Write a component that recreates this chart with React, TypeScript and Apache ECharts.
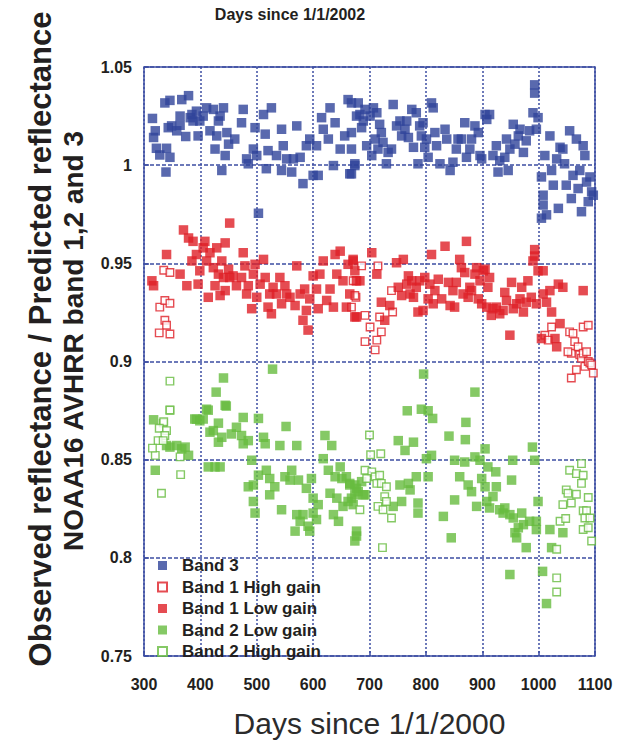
import React, { useEffect, useRef } from "react";
import * as echarts from "echarts";

// ---------- data ----------
const seriesNames = ["Band 3", "Band 1 High gain", "Band 1 Low gain", "Band 2 Low gain", "Band 2 High gain"];
const xTicks = { min: 300, max: 1100, step: 100 };
const yTicks = { min: 0.75, max: 1.05, step: 0.05 };

const band3: [number, number][] = [
  [315, 1.0238], [317, 1.0141], [320, 1.0175], [322, 1.0086], [328, 1.0052], [337, 1.0317], [339, 0.9965], [340, 1.0086],
  [346, 1.033], [346, 1.004], [343, 1.0191], [349, 1.02], [358, 1.0175], [364, 1.025], [367, 1.0334], [364, 1.0203],
  [374, 1.0146], [379, 1.0354], [382, 1.0242], [385, 1.0258], [387, 1.0225], [393, 1.0275], [396, 1.0149], [399, 1.0225],
  [405, 1.025], [411, 1.0292], [417, 1.0175], [423, 1.0284], [426, 1.0082], [429, 1.0149], [432, 1.0225], [435, 1.025],
  [438, 0.9973], [441, 1.0292], [444, 1.0049], [447, 1.0166], [450, 1.0107], [461, 1.0133], [473, 1.0216], [476, 1.0284],
  [482, 1.0032], [485, 1.0007], [494, 1.0082], [497, 1.0191], [500, 1.0049], [503, 0.9755], [512, 1.0258], [515, 1.0158],
  [517, 0.9982], [520, 1.0074], [526, 1.0292], [535, 1.0049], [544, 1.0183], [544, 0.9973], [547, 1.0099], [553, 1.0032],
  [562, 0.9965], [565, 1.0032], [571, 1.02], [577, 1.004], [582, 0.9906], [588, 1.0099], [594, 1.0133], [600, 0.9948],
  [606, 1.0099], [609, 0.9948], [615, 1.0242], [618, 1.0183], [627, 1.0133], [630, 1.0292], [636, 0.9998], [639, 1.0216],
  [648, 1.0082], [656, 1.0149], [662, 1.0334], [665, 0.9956], [674, 0.9998], [677, 1.025],
  [668, 1.0317], [668, 1.0166], [668, 1.0082], [668, 0.9956], [674, 1.0007], [680, 1.0317], [683, 1.0258], [686, 1.0191],
  [689, 1.0225], [692, 1.0284], [695, 1.0099], [701, 1.025], [704, 1.0049], [707, 1.0292], [710, 1.0133], [713, 1.0267],
  [715, 1.0082], [718, 1.0208], [721, 1.0166], [724, 1.0116], [730, 1.0007], [733, 1.0065], [739, 1.0082], [742, 1.0309],
  [748, 1.02], [754, 1.0225], [757, 1.0149], [763, 1.0183], [766, 1.0225], [769, 1.0141], [775, 1.0284], [778, 1.0091],
  [783, 1.0267], [786, 1.0007], [789, 1.02], [792, 1.0149], [795, 1.0216], [798, 1.0091], [801, 1.0133], [804, 1.004],
  [810, 1.0317], [813, 1.0292], [816, 1.0166], [819, 1.0099], [825, 1.0007], [834, 1.0183], [837, 1.0133], [843, 0.9973],
  [848, 1.0015], [854, 1.0082], [857, 1.0133], [863, 1.0133], [869, 1.0216], [872, 1.004], [878, 1.0082], [881, 1.0133],
  [887, 1.02], [893, 1.0166], [896, 1.0049], [899, 1.0032], [905, 1.0258], [908, 1.0233], [913, 1.0258], [919, 1.0049],
  [925, 1.0099], [928, 0.9965], [931, 1.0023], [940, 1.004], [943, 1.0133], [946, 0.9973], [949, 1.0082], [955, 1.0208],
  [958, 1.0107], [964, 1.0149], [967, 1.0183], [973, 1.0065], [978, 1.0124], [984, 1.0175], [990, 1.0267], [993, 1.0409],
  [993, 1.0367], [996, 1.0183], [999, 1.0242], [1005, 0.994], [1008, 0.9847], [1011, 1.0049], [1005, 0.973], [1008, 0.9797],
  [1014, 0.9747], [1020, 1.0149], [1023, 0.9973], [1026, 0.9898], [1032, 1.0032], [1035, 0.978], [1038, 1.0091], [1043, 1.0082],
  [1046, 1.0007], [1049, 0.9898], [1055, 1.0175], [1058, 0.983], [1061, 0.9948], [1067, 1.0133], [1070, 0.9881], [1073, 0.9973],
  [1076, 0.9763], [1079, 1.0099], [1082, 1.0049], [1085, 0.9914], [1088, 0.9814], [1091, 0.994], [1094, 0.9864], [1097, 0.9847],
];

const band1High: [number, number][] = [
  [335, 0.9465], [346, 0.9453], [328, 0.9277], [337, 0.9311], [346, 0.9297], [337, 0.921], [340, 0.9185], [327, 0.9146],
  [346, 0.914], [676, 0.9411], [676, 0.9327],
  [668, 0.9277], [671, 0.9411], [674, 0.9336], [686, 0.9487], [692, 0.9235], [701, 0.9176], [710, 0.9059], [713, 0.9109],
  [715, 0.9487], [718, 0.9227], [721, 0.9151], [739, 0.9361], [741, 0.9252], [692, 0.9101],
  [1011, 0.9134], [1017, 0.9109], [1023, 0.9176], [1055, 0.9151], [1058, 0.9042], [1061, 0.9143], [1064, 0.9101], [1070, 0.9075],
  [1073, 0.9034], [1076, 0.9017], [1079, 0.9176], [1079, 0.9042], [1082, 0.8975], [1085, 0.905], [1088, 0.9], [1088, 0.9185],
  [1091, 0.8992], [1058, 0.8916], [1067, 0.8958], [1094, 0.8983], [1097, 0.8941], [1052, 0.905],
];

const band1Low: [number, number][] = [
  [370, 0.967], [452, 0.9705],
  [314, 0.9411], [317, 0.9386], [340, 0.9545], [364, 0.9445], [376, 0.9386], [379, 0.9629], [385, 0.9512], [387, 0.9612],
  [393, 0.9545], [396, 0.9394], [399, 0.9462], [405, 0.9579], [408, 0.9612], [411, 0.9512], [414, 0.9327], [417, 0.9554],
  [423, 0.9478], [426, 0.9386], [429, 0.9579], [432, 0.9445], [435, 0.9336], [438, 0.9512], [441, 0.9428], [444, 0.9604],
  [444, 0.9361], [450, 0.947], [452, 0.9428], [458, 0.9436], [464, 0.9386], [473, 0.9428], [476, 0.9554], [479, 0.9487],
  [482, 0.9344], [485, 0.9386], [491, 0.9269], [494, 0.9445], [497, 0.9495], [500, 0.9327], [506, 0.9394], [512, 0.952],
  [515, 0.9428], [520, 0.9277], [523, 0.9344], [526, 0.9243], [529, 0.9378], [535, 0.9344], [541, 0.9428], [544, 0.9294],
  [550, 0.9386], [553, 0.9344], [559, 0.9327], [568, 0.9285], [571, 0.9487], [577, 0.9344], [582, 0.921], [585, 0.9369],
  [588, 0.926], [591, 0.916], [594, 0.9319], [600, 0.9436], [606, 0.9369], [609, 0.9269], [612, 0.9445], [618, 0.9512],
  [624, 0.9311], [630, 0.9369], [636, 0.9277], [639, 0.9545], [642, 0.9445], [648, 0.9562], [653, 0.9411], [659, 0.9277],
  [662, 0.9495], [665, 0.9344], [671, 0.952], [674, 0.9227], [677, 0.9411],
  [671, 0.9512], [674, 0.9462], [677, 0.9227], [683, 0.9411], [704, 0.9554], [713, 0.9445], [721, 0.9302], [727, 0.921],
  [736, 0.9285], [748, 0.9503], [751, 0.9378], [757, 0.9336], [760, 0.952], [766, 0.9394], [769, 0.9436], [772, 0.9344],
  [775, 0.9411], [778, 0.9327], [783, 0.9378], [786, 0.9252], [789, 0.9411], [795, 0.926], [798, 0.9428], [804, 0.9319],
  [807, 0.9394], [810, 0.9545], [813, 0.9294], [816, 0.9361], [822, 0.9419], [828, 0.9319], [834, 0.9587], [840, 0.9403],
  [843, 0.9285], [848, 0.9361], [851, 0.9277], [854, 0.9403], [860, 0.952], [863, 0.9478], [866, 0.9344], [869, 0.9453],
  [872, 0.9612], [875, 0.9327], [878, 0.9378], [881, 0.9361], [887, 0.9445], [890, 0.9478], [893, 0.9319], [896, 0.9411],
  [899, 0.9294], [902, 0.9462], [905, 0.947], [908, 0.9277], [910, 0.9378], [913, 0.9428], [916, 0.9235], [919, 0.9269],
  [925, 0.9277], [931, 0.9243], [937, 0.926], [940, 0.9352], [943, 0.9311], [949, 0.9134], [952, 0.9403], [955, 0.9269],
  [961, 0.9294], [967, 0.9319], [970, 0.9378], [973, 0.9252], [978, 0.9302], [981, 0.9411], [987, 0.9327], [990, 0.9512],
  [993, 0.957], [993, 0.9537], [996, 0.9294], [999, 0.9462], [1005, 0.9117], [1008, 0.9462], [1008, 0.9344], [1014, 0.9302],
  [1020, 0.9361], [1023, 0.9252], [1029, 0.9117], [1032, 0.9075], [1035, 0.9394], [1038, 0.9193], [1043, 0.9378], [1079, 0.9361],
];

const band2Low: [number, number][] = [
  [528, 0.8961], [441, 0.8916], [428, 0.8844], [446, 0.8773], [414, 0.8752], [393, 0.8706], [476, 0.8715], [503, 0.871],
  [432, 0.8686], [796, 0.8936], [887, 0.8844], [767, 0.8749], [792, 0.8757], [804, 0.8749], [812, 0.871], [871, 0.869],
  [317, 0.8703], [320, 0.8446], [340, 0.8572], [346, 0.8564], [358, 0.8572], [367, 0.8555], [373, 0.8564], [379, 0.8522],
  [390, 0.8707], [399, 0.8698], [405, 0.8707], [411, 0.8757], [414, 0.8463], [417, 0.864], [423, 0.8648], [426, 0.8463],
  [432, 0.8589], [435, 0.8463], [438, 0.8614], [444, 0.8777], [455, 0.8631], [464, 0.8665], [473, 0.8623], [476, 0.8581],
  [485, 0.8597], [485, 0.8362], [491, 0.8497], [494, 0.8371], [494, 0.8287], [497, 0.8228], [503, 0.8421], [512, 0.8614],
  [515, 0.8581], [517, 0.8446], [523, 0.8404], [523, 0.8321], [532, 0.8362], [541, 0.8572], [544, 0.8245], [550, 0.8413],
  [552, 0.8669], [559, 0.8396], [562, 0.8446], [568, 0.8136], [571, 0.8572], [571, 0.822], [574, 0.8396], [577, 0.8186],
  [582, 0.822], [588, 0.8354], [591, 0.8161], [594, 0.8136], [597, 0.8404], [600, 0.8304], [600, 0.8228], [606, 0.8195],
  [609, 0.8271], [618, 0.8505], [621, 0.8623], [627, 0.8446], [630, 0.8329], [633, 0.8572], [636, 0.822], [639, 0.8413],
  [642, 0.8304], [645, 0.8186], [648, 0.8463], [651, 0.8404], [653, 0.8262], [659, 0.8413], [662, 0.8287], [665, 0.8371],
  [671, 0.8271], [674, 0.8321], [677, 0.8354], [677, 0.8111],
  [665, 0.8379], [668, 0.8304], [674, 0.8371], [677, 0.8136], [674, 0.8086], [680, 0.8337], [686, 0.8388], [689, 0.8321],
  [692, 0.8321], [742, 0.8262], [751, 0.8597], [757, 0.8287], [763, 0.8547], [754, 0.8371], [769, 0.8379], [772, 0.8346],
  [778, 0.8589], [783, 0.8413], [786, 0.8279], [786, 0.8228], [801, 0.8505], [804, 0.8413], [810, 0.8522], [831, 0.8211],
  [841, 0.862], [845, 0.8102], [851, 0.8497], [851, 0.8295], [860, 0.8413], [869, 0.8488], [870, 0.8602], [875, 0.8371],
  [881, 0.8337], [887, 0.8514], [890, 0.8262], [896, 0.8497], [899, 0.8404], [905, 0.8555], [905, 0.8362], [908, 0.8287],
  [910, 0.8463], [913, 0.8254], [919, 0.8312], [924, 0.8438], [925, 0.8362], [931, 0.8245], [937, 0.8228], [940, 0.8254],
  [949, 0.822], [952, 0.8396], [954, 0.8497], [955, 0.8203], [958, 0.8128], [961, 0.8102], [964, 0.8153], [970, 0.8228],
  [973, 0.8169], [978, 0.8052], [984, 0.8186], [989, 0.8564], [993, 0.8497], [996, 0.8186], [996, 0.8144], [999, 0.8287],
  [1020, 0.8144], [1023, 0.8052], [1043, 0.8128], [949, 0.7915], [1007, 0.7931], [1014, 0.7767],
];

const band2High: [number, number][] = [
  [346, 0.89], [346, 0.8752], [334, 0.8686],
  [346, 0.8753], [335, 0.8693], [327, 0.866], [340, 0.8648], [337, 0.8623], [325, 0.8597], [334, 0.8597], [320, 0.8522],
  [364, 0.8514], [365, 0.8424], [331, 0.8329], [315, 0.8559],
  [700, 0.8626], [702, 0.8525], [720, 0.853], [692, 0.8446], [704, 0.8438], [695, 0.8404], [710, 0.8413], [718, 0.8421],
  [713, 0.8379], [721, 0.8379], [730, 0.8362], [727, 0.8312], [730, 0.8287], [715, 0.8262], [724, 0.8245], [683, 0.8245],
  [739, 0.8203], [723, 0.8052], [1055, 0.8446], [1067, 0.8429], [1076, 0.848], [1079, 0.8421], [1076, 0.8379], [1049, 0.8346],
  [1052, 0.8329], [1067, 0.8324], [1043, 0.8271], [1058, 0.8279], [1088, 0.8307], [1079, 0.824], [1085, 0.824], [1038, 0.8186],
  [1048, 0.82], [1082, 0.8203], [1091, 0.8203], [1079, 0.8144], [1088, 0.8153], [1094, 0.8086], [1032, 0.8044],
  [1032, 0.7898], [1032, 0.7826],
];

// ---------- styling ----------
const FONT = '"Liberation Sans", Arial, Helvetica, sans-serif';
const INK = "#231f20";
const BLUE = "#2f449a";
const RED = "#de1f27";
const GREEN = "#67bb3f";
const GRIDBLUE = "#3d4ea3";

export default function App() {
  const ref = useRef<HTMLDivElement>(null);

  useEffect(() => {
    document.body.style.margin = "0";
    if (!ref.current) return;
    const chart = echarts.init(ref.current, undefined, { renderer: "svg" });

    const filled = (color: string) => ({ color });
    const open = (color: string) => ({ color: "#ffffff", borderColor: color, borderWidth: 1.4 });

    const seriesData = [band3, band1High, band1Low, band2Low, band2High];
    const styles = [filled(BLUE), open(RED), filled(RED), filled(GREEN), open(GREEN)];
    const sizes = [9.5, 7.5, 9.5, 9.5, 7.5];

    chart.setOption({
      animation: false,
      backgroundColor: "#ffffff",
      grid: {
        left: 144,
        right: 36,
        top: 67,
        bottom: 80,
        show: true,
        borderColor: GRIDBLUE,
        borderWidth: 1.5,
        backgroundColor: "transparent",
      },
      legend: {
        orient: "vertical",
        left: 152,
        top: 552,
        itemWidth: 9,
        itemHeight: 9,
        itemGap: 4.5,
        data: seriesNames,
        textStyle: {
          fontFamily: FONT,
          fontSize: 17,
          fontWeight: "bold",
          color: INK,
          lineHeight: 17,
          padding: [0, 0, 0, 10],
        },
      },
      xAxis: {
        type: "value",
        min: xTicks.min,
        max: xTicks.max,
        interval: xTicks.step,
        axisLine: { show: false },
        axisTick: { show: true, inside: true, length: 5, lineStyle: { color: GRIDBLUE, width: 1.5 } },
        axisLabel: {
          fontFamily: FONT,
          fontSize: 16,
          fontWeight: "bold",
          color: INK,
          margin: 20,
          formatter: (v: number) => String(v),
        },
        splitLine: { show: true, lineStyle: { type: [2, 2], color: GRIDBLUE, width: 1.5 } },
        name: "Days since 1/1/2000",
        nameLocation: "middle",
        nameGap: 52,
        nameTextStyle: { fontFamily: FONT, fontSize: 30, color: "#2b2b2b" },
      },
      yAxis: {
        type: "value",
        min: yTicks.min,
        max: yTicks.max,
        interval: yTicks.step,
        axisLine: { show: false },
        axisTick: { show: true, inside: true, length: 5, lineStyle: { color: GRIDBLUE, width: 1.5 } },
        axisLabel: {
          fontFamily: FONT,
          fontSize: 16,
          fontWeight: "bold",
          color: INK,
          margin: 12,
          formatter: (v: number) => String(Number(v.toFixed(2))),
        },
        splitLine: { show: true, lineStyle: { type: [4, 2], color: GRIDBLUE, width: 1.5 } },
      },
      series: seriesNames.map((name, i) => ({
        name,
        type: "scatter",
        symbol: "rect",
        symbolSize: sizes[i],
        itemStyle: styles[i],
        emphasis: { disabled: true },
        data: seriesData[i],
      })),
      graphic: [
        {
          type: "text",
          x: 290,
          y: 14,
          style: {
            text: "Days since 1/1/2002",
            font: `bold 16px ${FONT}`,
            fill: INK,
            align: "center",
            verticalAlign: "middle",
            textAlign: "center",
            textVerticalAlign: "middle",
          },
        },
        {
          type: "text",
          x: 40,
          y: 339,
          rotation: Math.PI / 2,
          style: {
            text: "Observed reflectance / Predicted reflectance",
            font: `bold 31px ${FONT}`,
            fill: INK,
            align: "center",
            verticalAlign: "middle",
            textAlign: "center",
            textVerticalAlign: "middle",
          },
        },
        {
          type: "text",
          x: 73,
          y: 341,
          rotation: Math.PI / 2,
          style: {
            text: "NOAA16 AVHRR band 1,2 and 3",
            font: `bold 28px ${FONT}`,
            fill: INK,
            align: "center",
            verticalAlign: "middle",
            textAlign: "center",
            textVerticalAlign: "middle",
          },
        },
      ],
    });

    return () => chart.dispose();
  }, []);

  return <div ref={ref} style={{ width: 631, height: 743 }} />;
}
